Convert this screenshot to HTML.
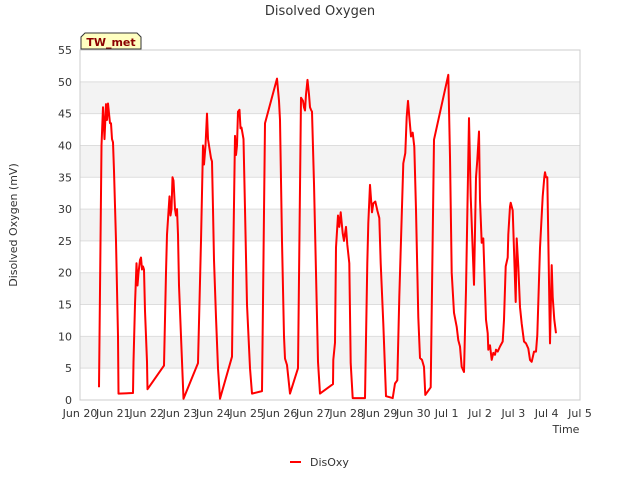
<!DOCTYPE html>
<html><head><meta charset="utf-8"><style>
body{margin:0;background:#fff;font-family:"Liberation Sans","DejaVu Sans",sans-serif;}
svg text{font-family:"DejaVu Sans","Liberation Sans",sans-serif;fill:#333;}
</style></head><body>
<svg id="c" width="640" height="480" xmlns="http://www.w3.org/2000/svg">
<text x="320" y="15" text-anchor="middle" font-size="13">Disolved Oxygen</text>
<text transform="translate(17,225) rotate(-90)" text-anchor="middle" font-size="11">Disolved Oxygen (mV)</text>
<text x="566" y="433" text-anchor="middle" font-size="11">Time</text>
<g id="bands"></g>
<g id="grid"></g>
<rect x="80" y="50" width="500" height="350" fill="none" stroke="#ccc"/>
<g id="yt"></g>
<g id="xt"></g>
<path id="line" fill="none" stroke="#ff0000" stroke-width="2" stroke-linejoin="round"/>
<g>
<path d="M81,49 L81,37 L85,33 L137,33 L141,37 L141,49 Z" fill="#ffffc0" stroke="#333" stroke-width="1"/>
<text x="111" y="46" text-anchor="middle" font-size="11" font-weight="bold" style="fill:#8b0000">TW_met</text>
</g>
<g>
<line x1="290" y1="462" x2="301" y2="462" stroke="#ff0000" stroke-width="2"/>
<text x="310" y="466" font-size="11">DisOxy</text>
</g>
</svg>
<script>
const days=[0.57,0.645,0.69,0.735,0.78,0.81,0.84,0.90,0.93,0.96,0.99,1.02,1.08,1.14,1.155,1.59,1.605,1.65,1.695,1.725,1.755,1.80,1.83,1.86,1.89,1.92,1.95,2.01,2.025,2.52,2.58,2.61,2.685,2.715,2.745,2.775,2.805,2.85,2.88,2.91,2.94,2.97,3.03,3.105,3.54,3.63,3.69,3.72,3.765,3.81,3.84,3.87,3.93,3.96,3.99,4.02,4.08,4.14,4.20,4.56,4.59,4.65,4.68,4.71,4.74,4.785,4.815,4.845,4.905,4.95,5.01,5.10,5.16,5.46,5.55,5.91,5.97,6.00,6.06,6.12,6.15,6.21,6.30,6.54,6.63,6.69,6.72,6.75,6.78,6.825,6.87,6.90,6.93,6.96,7.02,7.08,7.14,7.20,7.59,7.60,7.65,7.68,7.74,7.78,7.82,7.88,7.92,7.98,8.02,8.08,8.12,8.18,8.55,8.62,8.65,8.70,8.76,8.80,8.86,8.92,8.98,9.02,9.10,9.18,9.38,9.45,9.52,9.58,9.70,9.76,9.80,9.84,9.88,9.93,9.98,10.03,10.08,10.15,10.20,10.26,10.32,10.36,10.52,10.62,11.05,11.10,11.15,11.22,11.30,11.35,11.40,11.45,11.52,11.58,11.67,11.72,11.82,11.88,11.92,11.97,12.00,12.05,12.10,12.15,12.18,12.23,12.25,12.30,12.35,12.40,12.45,12.48,12.53,12.60,12.68,12.72,12.77,12.83,12.85,12.90,12.92,12.98,13.02,13.07,13.10,13.15,13.20,13.25,13.32,13.38,13.45,13.50,13.55,13.62,13.68,13.72,13.80,13.88,13.93,13.95,13.98,14.02,14.10,14.15,14.18,14.23,14.28];
const disoxy=[2,40,46,41,46.5,44,46.6,43.5,43.5,41,40.5,36,25,10,1,1.1,6,15,21.5,18,20,22,22.4,20.5,21,20.5,14,6,1.7,5.4,20,26,32,29,30,35,34.5,30,29,30,26,18,10,0.2,5.8,25,40,37,40,45,41,40,38,37.5,30,22,13,5,0.2,6.8,20,41.5,38.5,40,45.3,45.6,42.7,42.8,41,30,15,5,1,1.4,43.5,50.5,47,44,25,10,6.5,5.5,1,5,47.5,47,46,45.5,48,50.3,48,46,45.6,45.3,34,20,6,1,2.5,6.3,9,24,29,27.2,29.5,26.2,25,27.2,24.4,21.5,5.8,0.3,0.3,21.5,27.8,33.8,29.5,30.9,31.2,29.8,28.6,21.5,12,0.6,0.3,2.6,3.1,16.2,37.2,38.8,44.5,47,44.5,41.4,42,39.8,29.9,13,6.6,6.3,5.2,0.8,2,40.9,51.1,38.2,20,13.7,11.5,9.4,8.4,5.2,4.4,17.3,44.3,32,18.1,35,37.7,42.2,31.4,24.7,25.4,17.3,12.6,10.5,7.9,8.6,6.3,7.4,7.1,7.9,7.6,8.4,9.2,12.6,21,22.4,26,30.4,31,29.8,23.6,15.4,25.4,21,14.6,12,9.2,8.9,8.1,6.3,6,7.6,7.6,10.2,23.9,32,35,35.8,35,35,8.9,21.2,16.2,12.6,10.5];
const yTicks=[0,5,10,15,20,25,30,35,40,45,50,55];
const xTickLabels=["Jun 20","Jun 21","Jun 22","Jun 23","Jun 24","Jun 25","Jun 26","Jun 27","Jun 28","Jun 29","Jun 30","Jul 1","Jul 2","Jul 3","Jul 4","Jul 5"];
const X0=80,X1=580,Y0=400,Y1=50,DMAX=15,VMAX=55;
const sx=d=>X0+(X1-X0)*d/DMAX, sy=v=>Y0-(Y0-Y1)*v/VMAX;
const NS="http://www.w3.org/2000/svg";
function mk(t,a,p){const e=document.createElementNS(NS,t);for(const k in a)e.setAttribute(k,a[k]);p.appendChild(e);return e;}
const bands=document.getElementById('bands'),grid=document.getElementById('grid'),yt=document.getElementById('yt'),xt=document.getElementById('xt');
for(let i=1;i<yTicks.length-1;i+=2){const r=mk('rect',{x:X0,y:sy(yTicks[i+1]),width:X1-X0,height:sy(yTicks[i])-sy(yTicks[i+1]),fill:'#f3f3f3'},bands);

}
yTicks.forEach(v=>{const l=mk('line',{x1:X0,x2:X1,y1:sy(v),y2:sy(v),stroke:'#ddd'},grid);


const t=mk('text',{x:X0-8,y:sy(v)+4,'text-anchor':'end','font-size':'11'},yt);t.textContent=v;

});
xTickLabels.forEach((s,i)=>{const t=mk('text',{x:sx(i),y:417,'text-anchor':'middle','font-size':'11'},xt);t.textContent=s;

});
document.getElementById('line').setAttribute('d',days.map((d,i)=>(i?'L':'M')+sx(d).toFixed(1)+','+sy(disoxy[i]).toFixed(1)).join(' '));
</script>
</body></html>
